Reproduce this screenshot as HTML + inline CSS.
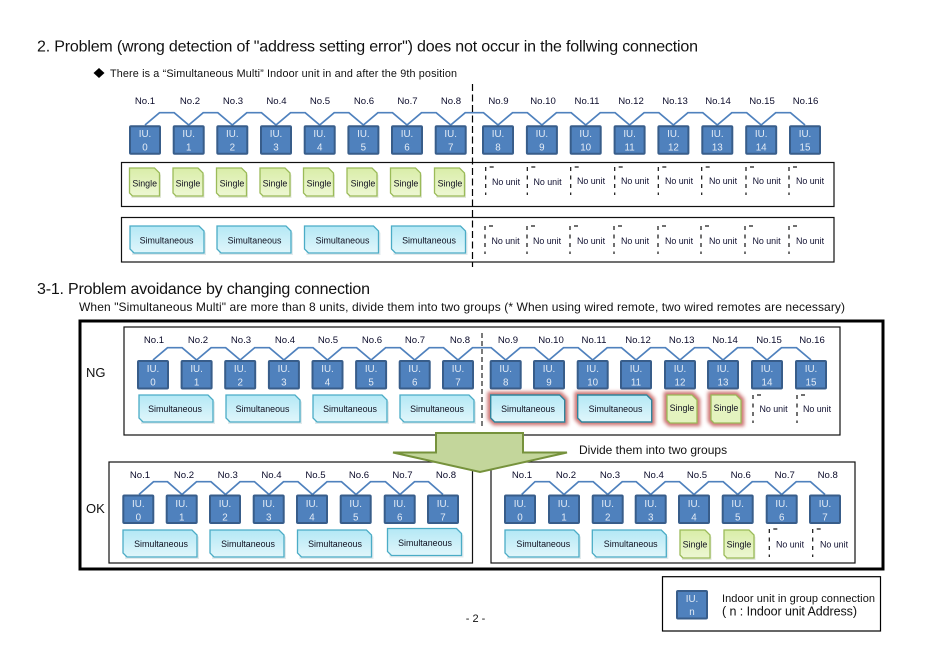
<!DOCTYPE html>
<html><head><meta charset="utf-8"><style>
html,body{margin:0;padding:0;background:#fff}
svg{display:block}
text{font-family:"Liberation Sans",Arial,sans-serif;fill:#111}
.l{font-size:9.6px;text-anchor:middle;fill:#0b0b2a}
.w{font-size:9.8px;text-anchor:middle;fill:#e4ecf6}
.s{font-size:8.9px;text-anchor:middle;fill:#101020}
.n{font-size:8.9px;text-anchor:middle;fill:#101030}
.c{fill:none;stroke:#4f81bd;stroke-width:1.7}
.p{fill:#fff;stroke:#111;stroke-width:1.2}
</style></head><body>
<svg width="936" height="661" viewBox="0 0 936 661" xmlns="http://www.w3.org/2000/svg">
<defs>
<linearGradient id="gb" x1="0" y1="0" x2="0" y2="1"><stop offset="0" stop-color="#b4e8f5"/><stop offset="1" stop-color="#e0f6fb"/></linearGradient>
<linearGradient id="gg" x1="0" y1="0" x2="0" y2="1"><stop offset="0" stop-color="#d9eda8"/><stop offset="1" stop-color="#edf7d3"/></linearGradient>
<filter id="blur" x="-30%" y="-40%" width="160%" height="180%"><feGaussianBlur stdDeviation="1.8"/></filter>
<g id="iu"><rect x="0" y="0" width="30" height="27.5" rx="1" fill="#4f81bd" stroke="#385d8a" stroke-width="2"/></g>
<g id="sg"><path d="M1.5,30 H31 V7 L26,2 H1 V26 Z" transform="translate(0.5,0)" fill="#e4e8dc"/><path d="M0,0 H25 L30,5 V28 H3 L0,25 Z" fill="url(#gg)" stroke="#9bbb59" stroke-width="1.3"/></g>
<g id="si"><path d="M2,29 H76 V7 L71,2 H2 Z" fill="#e2eaec"/><path d="M0,0 H69 L74,5 V27 H4 L0,23 Z" fill="url(#gb)" stroke="#4bacc6" stroke-width="1.3"/></g>
<g id="gs"><path d="M0,0 H69 L74,5 V27 H4 L0,23 Z" fill="#c0504d" stroke="#c0504d" stroke-width="6.5" opacity=".8" filter="url(#blur)"/><path d="M0,0 H69 L74,5 V27 H4 L0,23 Z" fill="url(#gb)" stroke="#31859c" stroke-width="1.4"/></g>
<g id="gg2"><path d="M0,0 H25 L30,5 V28 H3 L0,25 Z" fill="#c0504d" stroke="#c0504d" stroke-width="6.5" opacity=".8" filter="url(#blur)"/><path d="M0,0 H25 L30,5 V28 H3 L0,25 Z" fill="#e4f3bf" stroke="#9bbb59" stroke-width="1.3"/></g>
<g id="nu"><line x1="0" y1="0" x2="0" y2="28" stroke="#111" stroke-width="1.2" stroke-dasharray="4 4.5"/><line x1="4" y1="0" x2="8" y2="0" stroke="#111" stroke-width="1.2"/></g>
</defs>

<text x="37" y="51.5" font-size="16" textLength="661" lengthAdjust="spacing">2. Problem (wrong detection of "address setting error") does not occur in the follwing connection</text>
<path d="M99,68 L104.5,73 L99,78 L93.5,73 Z" fill="#000"/>
<text x="110" y="77" font-size="10.8" textLength="347" lengthAdjust="spacing">There is a “Simultaneous Multi” Indoor unit in and after the 9th position</text>

<!-- section 1 -->
<g>
<text class="l" x="145" y="104">No.1</text><text class="l" x="190" y="104">No.2</text><text class="l" x="233" y="104">No.3</text><text class="l" x="276.5" y="104">No.4</text><text class="l" x="320" y="104">No.5</text><text class="l" x="364" y="104">No.6</text><text class="l" x="407.5" y="104">No.7</text><text class="l" x="451" y="104">No.8</text>
<text class="l" x="498.5" y="104">No.9</text><text class="l" x="543" y="104">No.10</text><text class="l" x="587" y="104">No.11</text><text class="l" x="631" y="104">No.12</text><text class="l" x="675" y="104">No.13</text><text class="l" x="718" y="104">No.14</text><text class="l" x="762" y="104">No.15</text><text class="l" x="805.5" y="104">No.16</text>
<polyline class="c" points="145,125 159.5,112.7 174.2,112.7 188.7,125 203.2,112.7 217.8,112.7 232.3,125 246.8,112.7 261.5,112.7 276,125 290.5,112.7 305.2,112.7 319.7,125 334.2,112.7 348.9,112.7 363.4,125 377.9,112.7 392.5,112.7 407,125 421.5,112.7 436.2,112.7 450.7,125 465.2,112.7 483.5,112.7 498,125 512.5,112.7 527.4,112.7 541.9,125 556.4,112.7 571.2,112.7 585.7,125 600.2,112.7 615.1,112.7 629.6,125 644.1,112.7 658.9,112.7 673.4,125 687.9,112.7 702.8,112.7 717.3,125 731.8,112.7 746.7,112.7 761.2,125 775.7,112.7 790.5,112.7 805,125"/>
<use href="#iu" x="130" y="126.2"/><use href="#iu" x="173.7" y="126.2"/><use href="#iu" x="217.3" y="126.2"/><use href="#iu" x="261" y="126.2"/><use href="#iu" x="304.7" y="126.2"/><use href="#iu" x="348.4" y="126.2"/><use href="#iu" x="392" y="126.2"/><use href="#iu" x="435.7" y="126.2"/><use href="#iu" x="483" y="126.2"/><use href="#iu" x="526.9" y="126.2"/><use href="#iu" x="570.7" y="126.2"/><use href="#iu" x="614.6" y="126.2"/><use href="#iu" x="658.4" y="126.2"/><use href="#iu" x="702.3" y="126.2"/><use href="#iu" x="746.2" y="126.2"/><use href="#iu" x="790" y="126.2"/>
<text class="w" x="145" y="137">IU.</text><text class="w" x="188.7" y="137">IU.</text><text class="w" x="232.3" y="137">IU.</text><text class="w" x="276" y="137">IU.</text><text class="w" x="319.7" y="137">IU.</text><text class="w" x="363.4" y="137">IU.</text><text class="w" x="407" y="137">IU.</text><text class="w" x="450.7" y="137">IU.</text><text class="w" x="498" y="137">IU.</text><text class="w" x="541.9" y="137">IU.</text><text class="w" x="585.7" y="137">IU.</text><text class="w" x="629.6" y="137">IU.</text><text class="w" x="673.4" y="137">IU.</text><text class="w" x="717.3" y="137">IU.</text><text class="w" x="761.2" y="137">IU.</text><text class="w" x="805" y="137">IU.</text>
<text class="w" x="145" y="150.5">0</text><text class="w" x="188.7" y="150.5">1</text><text class="w" x="232.3" y="150.5">2</text><text class="w" x="276" y="150.5">3</text><text class="w" x="319.7" y="150.5">4</text><text class="w" x="363.4" y="150.5">5</text><text class="w" x="407" y="150.5">6</text><text class="w" x="450.7" y="150.5">7</text><text class="w" x="498" y="150.5">8</text><text class="w" x="541.9" y="150.5">9</text><text class="w" x="585.7" y="150.5">10</text><text class="w" x="629.6" y="150.5">11</text><text class="w" x="673.4" y="150.5">12</text><text class="w" x="717.3" y="150.5">13</text><text class="w" x="761.2" y="150.5">14</text><text class="w" x="805" y="150.5">15</text>

<rect class="p" x="121.5" y="162.5" width="712.5" height="44"/>
<rect class="p" x="121.5" y="217.5" width="712.5" height="44.5"/>

<use href="#sg" x="129.5" y="168"/><use href="#sg" x="173" y="168"/><use href="#sg" x="216.5" y="168"/><use href="#sg" x="260" y="168"/><use href="#sg" x="303.5" y="168"/><use href="#sg" x="347" y="168"/><use href="#sg" x="390.5" y="168"/><use href="#sg" x="434.5" y="168"/>
<text class="s" x="144.7" y="186.5">Single</text><text class="s" x="188" y="186.5">Single</text><text class="s" x="232" y="186.5">Single</text><text class="s" x="275" y="186.5">Single</text><text class="s" x="319" y="186.5">Single</text><text class="s" x="363" y="186.5">Single</text><text class="s" x="406" y="186.5">Single</text><text class="s" x="450" y="186.5">Single</text>

<use href="#si" x="130" y="226"/><use href="#si" x="217" y="226"/><use href="#si" x="304.5" y="226"/><use href="#si" x="391.5" y="226"/>
<text class="s" x="166.5" y="243.5">Simultaneous</text><text class="s" x="254.5" y="243.5">Simultaneous</text><text class="s" x="342.5" y="243.5">Simultaneous</text><text class="s" x="429" y="243.5">Simultaneous</text>

<use href="#nu" x="485.7" y="167"/><use href="#nu" x="527.3" y="167"/><use href="#nu" x="570.7" y="167"/><use href="#nu" x="614.7" y="167"/><use href="#nu" x="658.3" y="167"/><use href="#nu" x="701.7" y="167"/><use href="#nu" x="746" y="167"/><use href="#nu" x="789" y="167"/>
<text class="n" x="506" y="185">No unit</text><text class="n" x="547.5" y="185">No unit</text><text class="n" x="591" y="184">No unit</text><text class="n" x="635" y="184">No unit</text><text class="n" x="679" y="184">No unit</text><text class="n" x="723" y="184">No unit</text><text class="n" x="766.7" y="184">No unit</text><text class="n" x="810" y="184">No unit</text>

<use href="#nu" x="485" y="226"/><use href="#nu" x="527" y="226"/><use href="#nu" x="570" y="226"/><use href="#nu" x="614" y="226"/><use href="#nu" x="658" y="226"/><use href="#nu" x="701" y="226"/><use href="#nu" x="745" y="226"/><use href="#nu" x="789" y="226"/>
<text class="n" x="505.5" y="244">No unit</text><text class="n" x="547" y="244">No unit</text><text class="n" x="591" y="244">No unit</text><text class="n" x="635" y="244">No unit</text><text class="n" x="679" y="244">No unit</text><text class="n" x="723" y="244">No unit</text><text class="n" x="766.5" y="244">No unit</text><text class="n" x="810" y="244">No unit</text>
<line x1="472.5" y1="84" x2="472.5" y2="267" stroke="#000" stroke-width="1.2" stroke-dasharray="7 3.5"/>
</g>

<text x="37" y="294" font-size="16" textLength="333" lengthAdjust="spacing">3-1. Problem avoidance by changing connection</text>
<text x="79" y="311" font-size="12" textLength="766" lengthAdjust="spacing">When "Simultaneous Multi" are more than 8 units, divide them into two groups (* When using wired remote, two wired remotes are necessary)</text>

<rect x="80" y="321" width="803" height="248" fill="#fff" stroke="#000" stroke-width="3"/>

<!-- NG -->
<rect class="p" x="124" y="327" width="716" height="108"/>
<text x="86" y="377" font-size="13">NG</text>
<text class="l" x="154" y="343">No.1</text><text class="l" x="198" y="343">No.2</text><text class="l" x="241" y="343">No.3</text><text class="l" x="285" y="343">No.4</text><text class="l" x="328" y="343">No.5</text><text class="l" x="372" y="343">No.6</text><text class="l" x="415" y="343">No.7</text><text class="l" x="460" y="343">No.8</text><text class="l" x="508" y="343">No.9</text><text class="l" x="551" y="343">No.10</text><text class="l" x="594" y="343">No.11</text><text class="l" x="638" y="343">No.12</text><text class="l" x="681.7" y="343">No.13</text><text class="l" x="725" y="343">No.14</text><text class="l" x="769" y="343">No.15</text><text class="l" x="812" y="343">No.16</text>
<polyline class="c" points="153,360 167.5,347.7 182.1,347.7 196.6,360 211.1,347.7 225.7,347.7 240.2,360 254.7,347.7 269.4,347.7 283.9,360 298.4,347.7 313,347.7 327.5,360 342,347.7 356.6,347.7 371.1,360 385.6,347.7 400.2,347.7 414.7,360 429.2,347.7 443.5,347.7 458,360 472.5,347.7 491.2,347.7 505.7,360 520.2,347.7 534.5,347.7 549,360 563.5,347.7 578.2,347.7 592.7,360 607.2,347.7 621.5,347.7 636,360 650.5,347.7 665.5,347.7 680,360 694.5,347.7 708.5,347.7 723,360 737.5,347.7 752.5,347.7 767,360 781.5,347.7 796.5,347.7 811,360"/>
<use href="#iu" x="138" y="361"/><use href="#iu" x="181.6" y="361"/><use href="#iu" x="225.2" y="361"/><use href="#iu" x="268.9" y="361"/><use href="#iu" x="312.5" y="361"/><use href="#iu" x="356.1" y="361"/><use href="#iu" x="399.7" y="361"/><use href="#iu" x="443" y="361"/><use href="#iu" x="490.7" y="361"/><use href="#iu" x="534" y="361"/><use href="#iu" x="577.7" y="361"/><use href="#iu" x="621" y="361"/><use href="#iu" x="665" y="361"/><use href="#iu" x="708" y="361"/><use href="#iu" x="752" y="361"/><use href="#iu" x="796" y="361"/>
<text class="w" x="153" y="372">IU.</text><text class="w" x="196.6" y="372">IU.</text><text class="w" x="240.2" y="372">IU.</text><text class="w" x="283.9" y="372">IU.</text><text class="w" x="327.5" y="372">IU.</text><text class="w" x="371.1" y="372">IU.</text><text class="w" x="414.7" y="372">IU.</text><text class="w" x="458" y="372">IU.</text><text class="w" x="505.7" y="372">IU.</text><text class="w" x="549" y="372">IU.</text><text class="w" x="592.7" y="372">IU.</text><text class="w" x="636" y="372">IU.</text><text class="w" x="680" y="372">IU.</text><text class="w" x="723" y="372">IU.</text><text class="w" x="767" y="372">IU.</text><text class="w" x="811" y="372">IU.</text>
<text class="w" x="153" y="385.5">0</text><text class="w" x="196.6" y="385.5">1</text><text class="w" x="240.2" y="385.5">2</text><text class="w" x="283.9" y="385.5">3</text><text class="w" x="327.5" y="385.5">4</text><text class="w" x="371.1" y="385.5">5</text><text class="w" x="414.7" y="385.5">6</text><text class="w" x="458" y="385.5">7</text><text class="w" x="505.7" y="385.5">8</text><text class="w" x="549" y="385.5">9</text><text class="w" x="592.7" y="385.5">10</text><text class="w" x="636" y="385.5">11</text><text class="w" x="680" y="385.5">12</text><text class="w" x="723" y="385.5">13</text><text class="w" x="767" y="385.5">14</text><text class="w" x="811" y="385.5">15</text>
<use href="#si" x="139" y="395"/><use href="#si" x="226" y="395"/><use href="#si" x="313" y="395"/><use href="#si" x="400" y="395"/>
<text class="s" x="175" y="412">Simultaneous</text><text class="s" x="262.5" y="412">Simultaneous</text><text class="s" x="350" y="412">Simultaneous</text><text class="s" x="437" y="412">Simultaneous</text>
<use href="#gs" x="490.7" y="395"/><use href="#gs" x="577.7" y="395"/>
<text class="s" x="528" y="412">Simultaneous</text><text class="s" x="615.5" y="412">Simultaneous</text>
<use href="#gg2" x="667" y="395"/><use href="#gg2" x="711" y="395"/>
<text class="s" x="682" y="411">Single</text><text class="s" x="726" y="411">Single</text>
<use href="#nu" x="753" y="395"/><use href="#nu" x="797" y="395"/>
<text class="n" x="773.5" y="412">No unit</text><text class="n" x="817" y="412">No unit</text>
<line x1="482" y1="333" x2="482" y2="429" stroke="#222" stroke-width="1.2" stroke-dasharray="5 3"/>

<!-- OK panels -->
<rect class="p" x="109" y="462" width="363.5" height="101"/>
<rect class="p" x="491" y="462" width="364" height="101"/>
<text x="86" y="513" font-size="13">OK</text>
<text class="l" x="140" y="478">No.1</text><text class="l" x="184" y="478">No.2</text><text class="l" x="227.7" y="478">No.3</text><text class="l" x="271.5" y="478">No.4</text><text class="l" x="315.5" y="478">No.5</text><text class="l" x="359" y="478">No.6</text><text class="l" x="402.5" y="478">No.7</text><text class="l" x="446" y="478">No.8</text>
<polyline class="c" points="139,494.5 153.5,481.7 167.5,481.7 182,494.5 196.5,481.7 211,481.7 225.5,494.5 240,481.7 254.5,481.7 269,494.5 283.5,481.7 298,481.7 312.5,494.5 327,481.7 341.5,481.7 356,494.5 370.5,481.7 385.5,481.7 400,494.5 414.5,481.7 428.5,481.7 443,494.5"/>
<use href="#iu" x="123.3" y="495.5"/><use href="#iu" x="166.7" y="495.5"/><use href="#iu" x="210" y="495.5"/><use href="#iu" x="253.7" y="495.5"/><use href="#iu" x="297" y="495.5"/><use href="#iu" x="340.7" y="495.5"/><use href="#iu" x="384.7" y="495.5"/><use href="#iu" x="428" y="495.5"/>
<text class="w" x="138.3" y="507">IU.</text><text class="w" x="181.7" y="507">IU.</text><text class="w" x="225" y="507">IU.</text><text class="w" x="268.7" y="507">IU.</text><text class="w" x="312" y="507">IU.</text><text class="w" x="355.7" y="507">IU.</text><text class="w" x="399.7" y="507">IU.</text><text class="w" x="443" y="507">IU.</text>
<text class="w" x="138.3" y="520.5">0</text><text class="w" x="181.7" y="520.5">1</text><text class="w" x="225" y="520.5">2</text><text class="w" x="268.7" y="520.5">3</text><text class="w" x="312" y="520.5">4</text><text class="w" x="355.7" y="520.5">5</text><text class="w" x="399.7" y="520.5">6</text><text class="w" x="443" y="520.5">7</text>
<use href="#si" x="123" y="530"/><use href="#si" x="210" y="530"/><use href="#si" x="297.5" y="530"/><use href="#si" x="387.5" y="528.5"/>
<text class="s" x="161" y="547">Simultaneous</text><text class="s" x="248" y="547">Simultaneous</text><text class="s" x="335" y="547">Simultaneous</text><text class="s" x="425" y="546">Simultaneous</text>

<text class="l" x="522" y="478">No.1</text><text class="l" x="566" y="478">No.2</text><text class="l" x="610" y="478">No.3</text><text class="l" x="653.7" y="478">No.4</text><text class="l" x="697" y="478">No.5</text><text class="l" x="740.7" y="478">No.6</text><text class="l" x="784.7" y="478">No.7</text><text class="l" x="827.7" y="478">No.8</text>
<polyline class="c" points="521.7,494.5 535,481.7 549.5,481.7 564,494.5 578.5,481.7 593.2,481.7 607.7,494.5 622.2,481.7 636.2,481.7 650.7,494.5 665.2,481.7 679.5,481.7 694,494.5 708.5,481.7 723.2,481.7 737.7,494.5 752.2,481.7 767.2,481.7 781.7,494.5 796.2,481.7 810.5,481.7 825,494.5"/>
<use href="#iu" x="505" y="495.5"/><use href="#iu" x="549" y="495.5"/><use href="#iu" x="592.7" y="495.5"/><use href="#iu" x="635.7" y="495.5"/><use href="#iu" x="679" y="495.5"/><use href="#iu" x="722.7" y="495.5"/><use href="#iu" x="766.7" y="495.5"/><use href="#iu" x="810" y="495.5"/>
<text class="w" x="520" y="507">IU.</text><text class="w" x="564" y="507">IU.</text><text class="w" x="607.7" y="507">IU.</text><text class="w" x="650.7" y="507">IU.</text><text class="w" x="694" y="507">IU.</text><text class="w" x="737.7" y="507">IU.</text><text class="w" x="781.7" y="507">IU.</text><text class="w" x="825" y="507">IU.</text>
<text class="w" x="520" y="520.5">0</text><text class="w" x="564" y="520.5">1</text><text class="w" x="607.7" y="520.5">2</text><text class="w" x="650.7" y="520.5">3</text><text class="w" x="694" y="520.5">4</text><text class="w" x="737.7" y="520.5">5</text><text class="w" x="781.7" y="520.5">6</text><text class="w" x="825" y="520.5">7</text>
<use href="#si" x="505" y="530"/><use href="#si" x="592.3" y="530"/>
<text class="s" x="543.3" y="547">Simultaneous</text><text class="s" x="630.7" y="547">Simultaneous</text>
<use href="#sg" x="680" y="530"/><use href="#sg" x="724" y="530"/>
<text class="s" x="695" y="547.5">Single</text><text class="s" x="739" y="547.5">Single</text>
<use href="#nu" x="769.3" y="529"/><use href="#nu" x="812.7" y="529"/>
<text class="n" x="790" y="547.5">No unit</text><text class="n" x="834" y="547.5">No unit</text>

<!-- arrow -->
<polygon points="436,433 523,433 523,452.5 567,452.5 480,472 393,452.5 436,452.5" fill="#c3d69b" stroke="#76923c" stroke-width="2"/>
<text x="579" y="454" font-size="12">Divide them into two groups</text>

<!-- legend -->
<rect x="662.5" y="576.7" width="218" height="54.3" fill="#fff" stroke="#000" stroke-width="1.2"/>
<use href="#iu" x="677" y="591"/>
<text class="w" x="692" y="602">IU.</text><text class="w" x="692" y="615">n</text>
<text x="722" y="602" font-size="11" textLength="153" lengthAdjust="spacing">Indoor unit in group connection</text>
<text x="722" y="615.5" font-size="12.5" textLength="135" lengthAdjust="spacing">( n : Indoor unit Address)</text>
<text x="475.5" y="622" font-size="11" text-anchor="middle">- 2 -</text>
</svg>
</body></html>
